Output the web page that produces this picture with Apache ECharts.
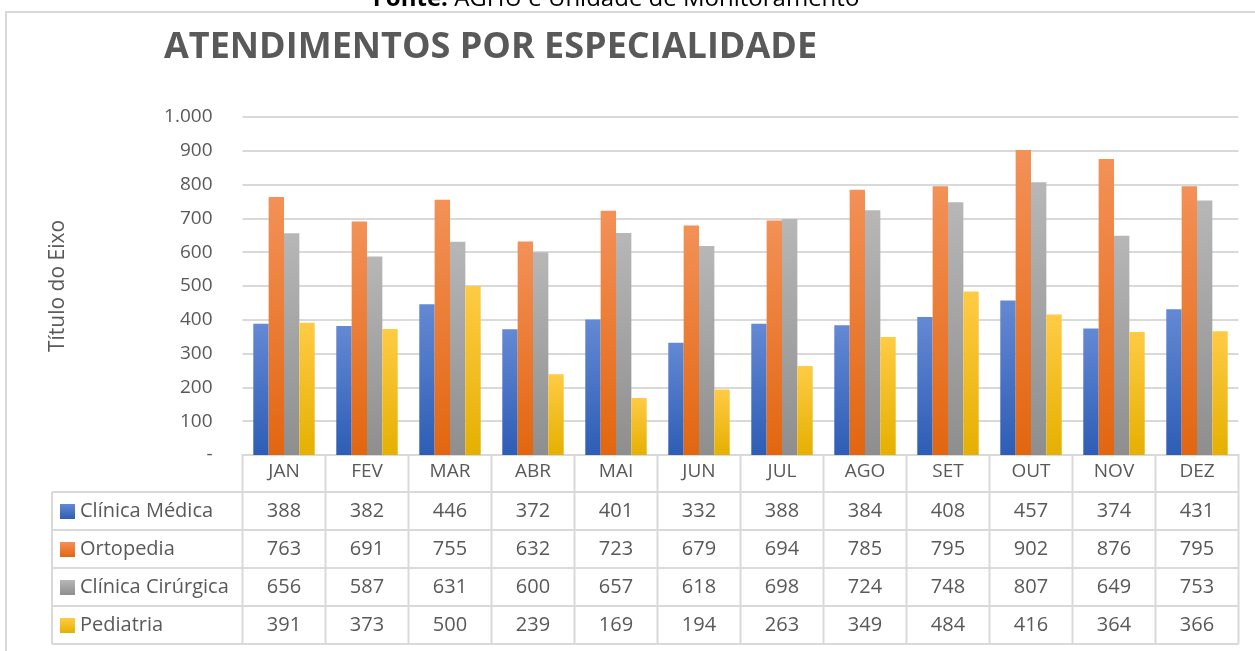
<!DOCTYPE html>
<html>
<head>
<meta charset="utf-8">
<script src="https://cdn.jsdelivr.net/npm/echarts@6/dist/echarts.min.js"></script>
<style>
  html, body { margin: 0; padding: 0; background: #fff; }
  #chart { width: 1255px; height: 651px; }
</style>
</head>
<body>
<div id="chart"></div>
<script>
var months = ['JAN', 'FEV', 'MAR', 'ABR', 'MAI', 'JUN', 'JUL', 'AGO', 'SET', 'OUT', 'NOV', 'DEZ'];
var seriesNames = ['Clínica Médica', 'Ortopedia', 'Clínica Cirúrgica', 'Pediatria'];
var clinicaMedica = [388, 382, 446, 372, 401, 332, 388, 384, 408, 457, 374, 431];
var ortopedia = [763, 691, 755, 632, 723, 679, 694, 785, 795, 902, 876, 795];
var clinicaCirurgica = [656, 587, 631, 600, 657, 618, 698, 724, 748, 807, 649, 753];
var pediatria = [391, 373, 500, 239, 169, 194, 263, 349, 484, 416, 364, 366];

var allData = [clinicaMedica, ortopedia, clinicaCirurgica, pediatria];
// cores com gradiente (topo, base)
var colors = [
  ['#6489d4', '#2d5db5'],
  ['#f39158', '#e2660f'],
  ['#b7b7b7', '#8e8e8e'],
  ['#ffcb45', '#e5b000']
];
var font = '"Open Sans", "Liberation Sans", sans-serif';
var txt = '#595959';
var line = '#d9d9d9';

function grad(c) {
  return new echarts.graphic.LinearGradient(0, 0, 0, 1, [
    { offset: 0, color: c[0] },
    { offset: 1, color: c[1] }
  ]);
}

var chart = echarts.init(document.getElementById('chart'));

var series = seriesNames.map(function (name, i) {
  return {
    name: name,
    type: 'bar',
    data: allData[i],
    barGap: '0%',
    barCategoryGap: '26%',
    itemStyle: {
      color: grad(colors[i]),
      shadowColor: 'rgba(0,0,0,0.25)',
      shadowBlur: 4,
      shadowOffsetX: 1
    }
  };
});

chart.setOption({
  animation: false,
  textStyle: { fontFamily: font },
  title: {
    text: 'ATENDIMENTOS POR ESPECIALIDADE',
    left: 159,
    top: 25,
    textStyle: { fontFamily: font, fontSize: 36, fontWeight: 'bold', color: txt }
  },
  grid: { left: 242.5, right: 16.5, top: 117, bottom: 196 },
  xAxis: {
    type: 'category',
    data: months,
    axisLine: { show: true, lineStyle: { color: line, width: 2 } },
    axisTick: { show: true, length: 0 },
    axisLabel: { color: txt, fontSize: 19, margin: 7 }
  },
  yAxis: {
    type: 'value',
    min: 0,
    max: 1000,
    interval: 100,
    name: 'Título do Eixo',
    nameLocation: 'middle',
    nameGap: 174,
    nameTextStyle: { color: txt, fontSize: 21 },
    axisLine: { show: false },
    axisTick: { show: false },
    splitLine: { lineStyle: { color: line, width: 2 } },
    axisLabel: {
      color: txt,
      fontSize: 19,
      margin: 30,
      formatter: function (v) {
        if (v === 0) return '-';
        return v >= 1000 ? (v / 1000) + '.' + String(v % 1000).padStart(3, '0') : String(v);
      }
    }
  },
  series: series
});

// tabela de dados abaixo do eixo
function buildTable() {
  var els = [];
  var catW = Math.abs(chart.convertToPixel({ xAxisIndex: 0 }, 1) - chart.convertToPixel({ xAxisIndex: 0 }, 0));
  var left = chart.convertToPixel({ xAxisIndex: 0 }, 0) - catW / 2;
  var right = left + catW * months.length;
  var top = chart.convertToPixel({ yAxisIndex: 0 }, 0);
  var headerB = top + 37;
  var rowH = 38;
  var tableL = 52;
  var lineStyle = { stroke: line, lineWidth: 2 };

  // moldura
  els.push({ type: 'rect', shape: { x: 6, y: 12, width: 1270, height: 700 }, style: { fill: null, stroke: line, lineWidth: 2 }, silent: true });
  // fonte (cortada no topo)
  els.push({
    type: 'text', x: 616, y: -1,
    style: {
      text: '{b|Fonte:} AGHU e Unidade de Monitoramento',
      align: 'center', verticalAlign: 'middle',
      font: '24px ' + font, fill: '#000',
      rich: { b: { fontWeight: 'bold', fontSize: 24, fontFamily: font, fill: '#000' } }
    }
  });

  // horizontais
  els.push({ type: 'line', shape: { x1: tableL, y1: headerB, x2: right, y2: headerB }, style: lineStyle });
  for (var r = 1; r <= seriesNames.length; r++) {
    var y = headerB + r * rowH;
    els.push({ type: 'line', shape: { x1: tableL, y1: y, x2: right, y2: y }, style: lineStyle });
  }
  var bottom = headerB + seriesNames.length * rowH;
  // verticais
  els.push({ type: 'line', shape: { x1: tableL, y1: headerB, x2: tableL, y2: bottom }, style: lineStyle });
  for (var c = 0; c <= months.length; c++) {
    var x = left + c * catW;
    els.push({ type: 'line', shape: { x1: x, y1: top, x2: x, y2: bottom }, style: lineStyle });
  }
  // linhas das series
  seriesNames.forEach(function (name, i) {
    var cy = headerB + i * rowH + rowH / 2;
    els.push({ type: 'rect', shape: { x: 60, y: cy - 7, width: 15, height: 15 }, style: { fill: grad(colors[i]) } });
    els.push({
      type: 'text', x: 80, y: cy,
      style: { text: name, font: '20px ' + font, fill: txt, verticalAlign: 'middle', align: 'left' }
    });
    allData[i].forEach(function (v, j) {
      els.push({
        type: 'text', x: left + (j + 0.5) * catW, y: cy,
        style: { text: String(v), font: '20px ' + font, fill: txt, verticalAlign: 'middle', align: 'center' }
      });
    });
  });
  chart.setOption({ graphic: { elements: els } });
}
buildTable();
</script>
</body>
</html>
